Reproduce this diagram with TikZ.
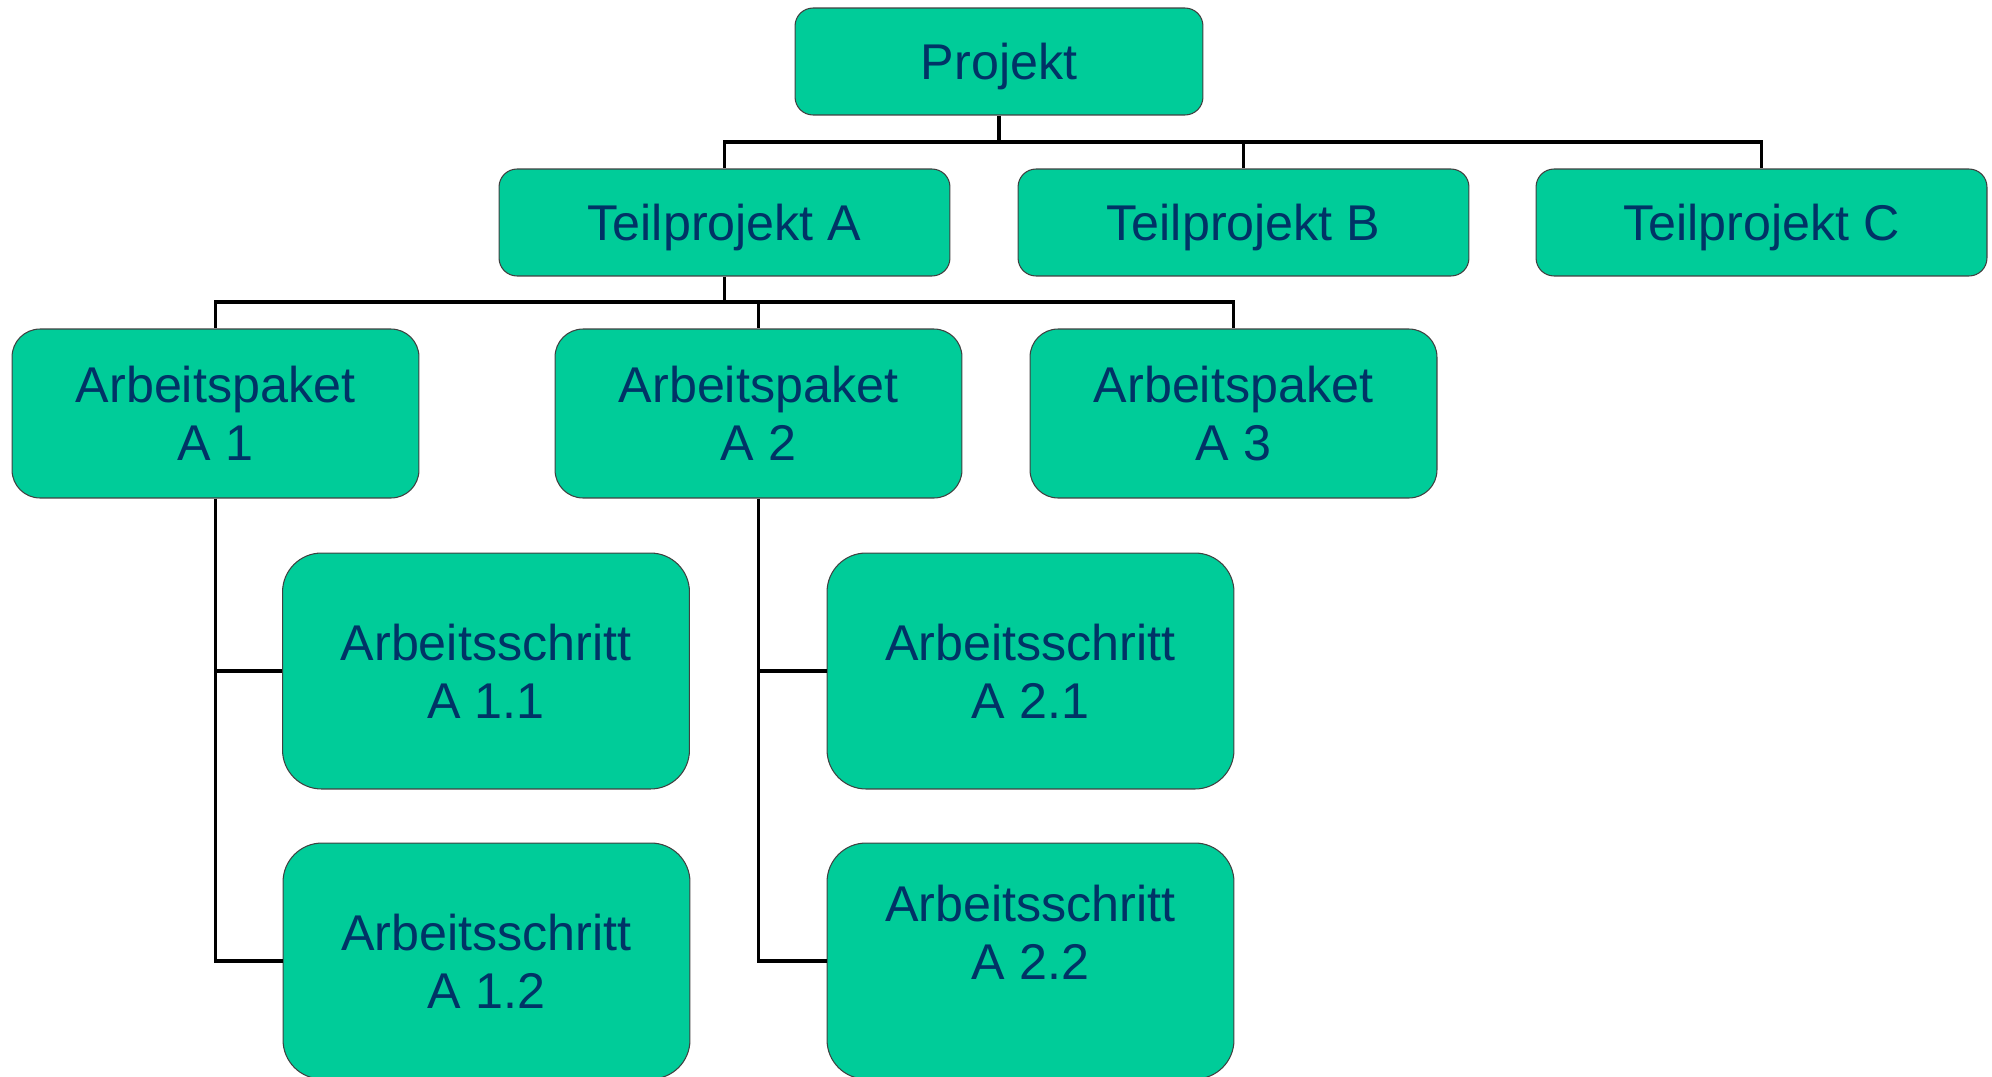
\documentclass[tikz,border=0pt]{standalone}
\usepackage{fontspec}
\setmainfont{Liberation Sans}
\usepackage{xcolor}
\definecolor{boxgreen}{RGB}{0,204,153}
\definecolor{textblue}{RGB}{0,51,102}

\begin{document}
\begin{tikzpicture}[x=0.02cm, y=-0.02cm,
		box/.style={rectangle, draw=black!75, line width=0.6pt, fill=boxgreen, text=textblue, align=center, inner sep=0pt, font=\fontsize{28.6}{33.2}\selectfont},
		projbox/.style={box, minimum width=8.16cm, minimum height=2.14cm, rounded corners=0.36cm, text depth=0pt},
		tpbox/.style={box, minimum width=9.02cm, minimum height=2.14cm, rounded corners=0.36cm, text depth=0pt},
		apbox/.style={box, minimum width=8.14cm, minimum height=3.38cm, rounded corners=0.56cm},
		asbox/.style={box, minimum width=8.14cm, minimum height=4.72cm, rounded corners=0.78cm},
		conn/.style={line width=2pt}]
		
		\useasboundingbox (0,0) rectangle (1992,1076);
		
		\node [projbox] (proj) at (999,61.5) {Projekt};
		
		\node [tpbox] (ta) at (724.5,222.5) {Teilprojekt A};
		\node [tpbox] (tb) at (1243.5,222.5) {Teilprojekt B};
		\node [tpbox] (tc) at (1761.5,222.5) {Teilprojekt C};
		
		\node [apbox] (apa1) at (215.5,413.5) {Arbeitspaket\\A 1};
		\node [apbox] (apa2) at (758.5,413.5) {Arbeitspaket\\A 2};
		\node [apbox] (apa3) at (1233.5,413.5) {Arbeitspaket\\A 3};
		
		\node [asbox] (as11) at (486,671) {Arbeitsschritt\\A 1.1};
		\node [asbox] (as12) at (486.5,961) {Arbeitsschritt\\A 1.2};
		\node [asbox] (as21) at (1030.5,671) {Arbeitsschritt\\A 2.1};
		\node [asbox] (as22) at (1030.5,961) {};
		\node [box, draw=none, fill=none] (as22txt) at (1030.5,932) {Arbeitsschritt\\A 2.2};
		
		\coordinate (bus1) at (999,142);
		\draw [conn] (proj.south) -- (bus1);
		\draw [conn] (bus1) -| (ta.north);
		\draw [conn] (bus1) -| (tb.north);
		\draw [conn] (bus1) -| (tc.north);
		
		\coordinate (bus2) at (724.5,302);
		\draw [conn] (ta.south) -- (bus2);
		\draw [conn] (bus2) -| (apa1.north);
		\draw [conn] (bus2) -| (apa2.north);
		\draw [conn] (bus2) -| (apa3.north);
		
		\draw [conn] (apa1.south) |- (as12.west);
		\draw [conn] (apa1.south |- as11.west) -- (as11.west);
		
		\draw [conn] (apa2.south) |- (as22.west);
		\draw [conn] (apa2.south |- as21.west) -- (as21.west);
		
	\end{tikzpicture}
\end{document}
